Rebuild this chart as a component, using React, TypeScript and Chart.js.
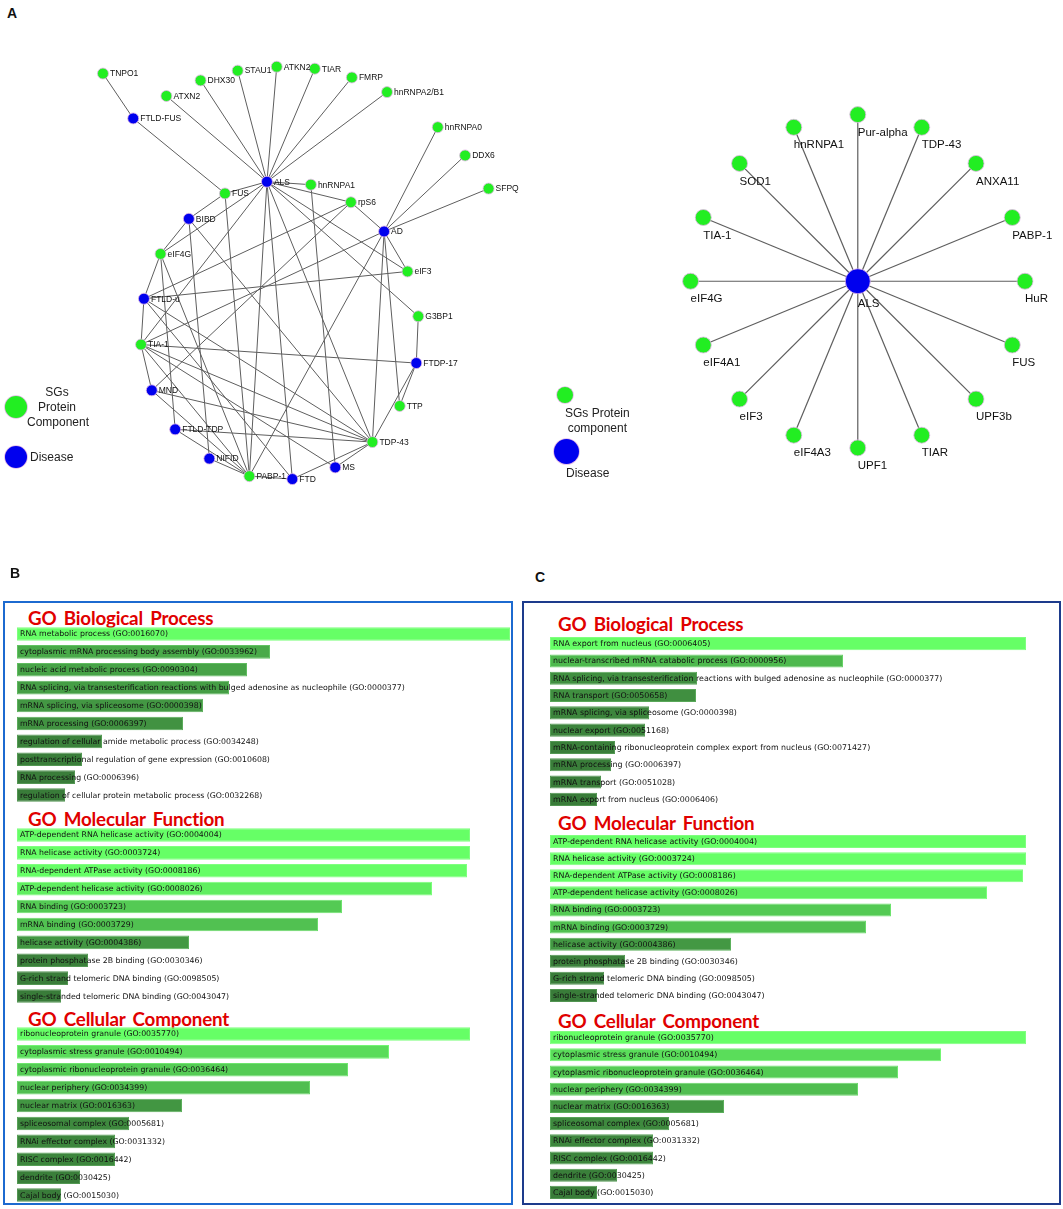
import React, { useEffect, useRef } from "react";
import { Chart, registerables } from "chart.js";
Chart.register(...registerables);

// ---------------- Panel A (left): SG protein / disease network ----------------
const leftNodeNames = [
  "TNPO1", "ATXN2", "DHX30", "STAU1", "ATKN2", "TIAR", "FMRP", "hnRNPA2/B1",
  "FTLD-FUS", "hnRNPA0", "DDX6", "SFPQ", "ALS", "hnRNPA1", "FUS", "rpS6",
  "BIBD", "AD", "eIF4G", "eIF3", "FTLD-u", "G3BP1", "TIA-1", "FTDP-17",
  "MND", "TTP", "FTLD-TDP", "TDP-43", "NIFID", "MS", "PABP-1", "FTD",
];
const leftNodeX = [99, 164, 199, 237, 277, 316, 354, 390, 130, 442, 470, 494, 267, 312, 224, 353, 187, 387, 158, 411, 141, 422, 138, 420, 149, 403, 173, 375, 208, 337, 249, 293];
const leftNodeY = [69, 92, 76, 66, 62, 64, 73, 88, 115, 124, 153, 187, 180, 183, 192, 201, 218, 231, 254, 272, 300, 318, 347, 366, 394, 410, 434, 447, 464, 473, 482, 485];
const leftNodeKind = [
  "SG", "SG", "SG", "SG", "SG", "SG", "SG", "SG",
  "D", "SG", "SG", "SG", "D", "SG", "SG", "SG",
  "D", "D", "SG", "SG", "D", "SG", "SG", "D",
  "D", "SG", "D", "SG", "D", "D", "SG", "D",
];
const leftEdges: [string, string][] = [
  ["TNPO1", "FTLD-FUS"], ["FTLD-FUS", "FUS"],
  ["ATXN2", "ALS"], ["DHX30", "ALS"], ["STAU1", "ALS"], ["ATKN2", "ALS"], ["TIAR", "ALS"], ["FMRP", "ALS"], ["hnRNPA2/B1", "ALS"],
  ["hnRNPA0", "AD"], ["DDX6", "AD"], ["SFPQ", "AD"],
  ["ALS", "FUS"], ["ALS", "hnRNPA1"], ["ALS", "rpS6"], ["ALS", "eIF4G"], ["ALS", "TIA-1"], ["ALS", "PABP-1"], ["ALS", "FTD"], ["ALS", "TDP-43"], ["ALS", "eIF3"], ["ALS", "G3BP1"],
  ["hnRNPA1", "MS"],
  ["rpS6", "AD"], ["rpS6", "FTLD-u"], ["rpS6", "MND"],
  ["FUS", "BIBD"], ["FUS", "PABP-1"],
  ["BIBD", "eIF4G"], ["BIBD", "NIFID"], ["BIBD", "TDP-43"],
  ["AD", "eIF3"], ["AD", "TIA-1"], ["AD", "PABP-1"], ["AD", "TDP-43"], ["AD", "TTP"],
  ["eIF4G", "FTLD-u"], ["eIF4G", "FTLD-TDP"], ["eIF4G", "PABP-1"],
  ["FTLD-u", "eIF3"], ["FTLD-u", "TIA-1"], ["FTLD-u", "TDP-43"], ["FTLD-u", "FTD"],
  ["TIA-1", "FTDP-17"], ["TIA-1", "MND"], ["TIA-1", "TDP-43"], ["TIA-1", "PABP-1"], ["TIA-1", "MS"],
  ["MND", "TDP-43"], ["MND", "PABP-1"],
  ["FTLD-TDP", "TDP-43"], ["FTLD-TDP", "PABP-1"],
  ["NIFID", "PABP-1"], ["PABP-1", "FTD"], ["FTD", "TDP-43"], ["MS", "TDP-43"],
  ["TDP-43", "FTDP-17"], ["TTP", "FTDP-17"], ["FTDP-17", "G3BP1"],
];

// ---------------- Panel A (right): ALS star network ----------------
const rightHubName = "ALS";
const rightHubX = 861;
const rightHubY = 283;
const rightRadius = 176;
const rightNodeNames = [
  "HuR", "PABP-1", "ANXA11", "TDP-43", "Pur-alpha", "hnRNPA1", "SOD1", "TIA-1",
  "eIF4G", "eIF4A1", "eIF3", "eIF4A3", "UPF1", "TIAR", "UPF3b", "FUS",
];
const rightNodeAngleDeg = [0, 22.5, 45, 67.5, 90, 112.5, 135, 157.5, 180, 202.5, 225, 247.5, 270, 292.5, 315, 337.5];

// ---------------- Panel B: GO enrichment ----------------
const bBPTerms = [
  "RNA metabolic process (GO:0016070)",
  "cytoplasmic mRNA processing body assembly (GO:0033962)",
  "nucleic acid metabolic process (GO:0090304)",
  "RNA splicing, via transesterification reactions with bulged adenosine as nucleophile (GO:0000377)",
  "mRNA splicing, via spliceosome (GO:0000398)",
  "mRNA processing (GO:0006397)",
  "regulation of cellular amide metabolic process (GO:0034248)",
  "posttranscriptional regulation of gene expression (GO:0010608)",
  "RNA processing (GO:0006396)",
  "regulation of cellular protein metabolic process (GO:0032268)",
];
const bBPScores = [493, 253, 230, 212, 186, 166, 85, 65, 58, 48];

const mfTerms = [
  "ATP-dependent RNA helicase activity (GO:0004004)",
  "RNA helicase activity (GO:0003724)",
  "RNA-dependent ATPase activity (GO:0008186)",
  "ATP-dependent helicase activity (GO:0008026)",
  "RNA binding (GO:0003723)",
  "mRNA binding (GO:0003729)",
  "helicase activity (GO:0004386)",
  "protein phosphatase 2B binding (GO:0030346)",
  "G-rich strand telomeric DNA binding (GO:0098505)",
  "single-stranded telomeric DNA binding (GO:0043047)",
];
const bMFScores = [453, 453, 450, 415, 325, 301, 172, 71, 51, 44];

const ccTerms = [
  "ribonucleoprotein granule (GO:0035770)",
  "cytoplasmic stress granule (GO:0010494)",
  "cytoplasmic ribonucleoprotein granule (GO:0036464)",
  "nuclear periphery (GO:0034399)",
  "nuclear matrix (GO:0016363)",
  "spliceosomal complex (GO:0005681)",
  "RNAi effector complex (GO:0031332)",
  "RISC complex (GO:0016442)",
  "dendrite (GO:0030425)",
  "Cajal body (GO:0015030)",
];
const bCCScores = [453, 372, 331, 293, 165, 112, 98, 98, 63, 44];

// ---------------- Panel C: GO enrichment ----------------
const cBPTerms = [
  "RNA export from nucleus (GO:0006405)",
  "nuclear-transcribed mRNA catabolic process (GO:0000956)",
  "RNA splicing, via transesterification reactions with bulged adenosine as nucleophile (GO:0000377)",
  "RNA transport (GO:0050658)",
  "mRNA splicing, via spliceosome (GO:0000398)",
  "nuclear export (GO:0051168)",
  "mRNA-containing ribonucleoprotein complex export from nucleus (GO:0071427)",
  "mRNA processing (GO:0006397)",
  "mRNA transport (GO:0051028)",
  "mRNA export from nucleus (GO:0006406)",
];
const cBPScores = [476, 293, 147, 146, 99, 95, 65, 61, 51, 47];
const cMFScores = [476, 476, 473, 437, 341, 316, 181, 75, 54, 47];
const cCCScores = [476, 391, 348, 308, 174, 119, 103, 103, 67, 47];

// ---------------- styling helpers ----------------
const SG_GREEN = "#22ee22";
const DISEASE_BLUE = "#0000ee";
const EDGE_GREY = "#5e5e5e";

function barColor(f: number, lighten = 0) {
  const t = Math.pow(Math.max(0, Math.min(1, f)), 1.5);
  const r = Math.round(56 + (102 - 56) * t + lighten);
  const g = Math.round(120 + (255 - 120) * t + lighten);
  const b = Math.round(56 + (102 - 56) * t + lighten);
  return `rgb(${Math.min(255, r)},${Math.min(255, g)},${Math.min(255, b)})`;
}

type CfgFn = () => any;

function ChartCanvas(props: { left: number; top: number; width: number; height: number; make: CfgFn }) {
  const ref = useRef<HTMLCanvasElement | null>(null);
  useEffect(() => {
    if (!ref.current) return;
    const chart = new Chart(ref.current, props.make());
    return () => chart.destroy();
  }, []);
  return (
    <canvas
      ref={ref}
      width={props.width}
      height={props.height}
      style={{ position: "absolute", left: props.left, top: props.top, width: props.width, height: props.height }}
    />
  );
}

function networkConfig(opts: {
  xMin: number; xMax: number; yMax: number;
  names: string[]; xs: number[]; ys: number[]; colors: string[]; radii: number[];
  edges: [number, number][];
  font: string; labelOffset: (r: number) => [number, number];
  edgeWidth: number;
}) {
  const nodeData = opts.names.map((_, i) => ({ x: opts.xs[i], y: opts.ys[i] }));
  const edgeSets = opts.edges.map(([a, b]) => ({
    type: "scatter",
    data: [nodeData[a], nodeData[b]],
    showLine: true,
    borderColor: EDGE_GREY,
    borderWidth: opts.edgeWidth,
    pointRadius: 0,
    clip: false,
  }));
  const labelPlugin = {
    id: "nodeLabels",
    afterDatasetsDraw(chart: any) {
      const meta = chart.getDatasetMeta(0);
      const ctx = chart.ctx;
      ctx.save();
      ctx.font = opts.font;
      ctx.fillStyle = "#111";
      ctx.textBaseline = "middle";
      ctx.textAlign = "left";
      meta.data.forEach((el: any, i: number) => {
        const [dx, dy] = opts.labelOffset(opts.radii[i]);
        ctx.fillText(opts.names[i], el.x + dx, el.y + dy);
      });
      ctx.restore();
    },
  };
  return {
    type: "scatter",
    data: {
      datasets: [
        {
          data: nodeData,
          pointRadius: opts.radii,
          pointBackgroundColor: opts.colors,
          pointBorderColor: "#e2b8e6",
          pointBorderWidth: 0.8,
          clip: false,
        },
        ...edgeSets,
      ],
    },
    options: {
      responsive: false,
      animation: false,
      events: [],
      layout: { padding: 0 },
      scales: {
        x: { type: "linear", display: false, min: opts.xMin, max: opts.xMax },
        y: { type: "linear", display: false, min: 0, max: opts.yMax, reverse: true },
      },
      plugins: { legend: { display: false }, tooltip: { enabled: false } },
    },
    plugins: [labelPlugin],
  };
}

function leftNetworkConfig() {
  const idx = (n: string) => leftNodeNames.indexOf(n);
  return networkConfig({
    xMin: 0, xMax: 530, yMax: 500,
    names: leftNodeNames, xs: leftNodeX, ys: leftNodeY,
    colors: leftNodeKind.map((k) => (k === "SG" ? SG_GREEN : DISEASE_BLUE)),
    radii: leftNodeNames.map(() => 5.5),
    edges: leftEdges.map(([a, b]) => [idx(a), idx(b)] as [number, number]),
    font: '8.5px "Liberation Sans", Arial, sans-serif',
    labelOffset: () => [7, 0.5],
    edgeWidth: 1,
  });
}

function rightNetworkConfig() {
  const names = [rightHubName, ...rightNodeNames];
  const xs = [rightHubX, ...rightNodeAngleDeg.map((a) => rightHubX + rightRadius * Math.cos((a * Math.PI) / 180))];
  const ys = [rightHubY, ...rightNodeAngleDeg.map((a) => rightHubY - rightRadius * Math.sin((a * Math.PI) / 180))];
  return networkConfig({
    xMin: 530, xMax: 1063, yMax: 500,
    names, xs, ys,
    colors: [DISEASE_BLUE, ...rightNodeNames.map(() => SG_GREEN)],
    radii: [12.5, ...rightNodeNames.map(() => 8)],
    edges: rightNodeNames.map((_, i) => [0, i + 1] as [number, number]),
    font: '11.5px "Liberation Sans", Arial, sans-serif',
    labelOffset: (r) => [0, r + 10],
    edgeWidth: 1.2,
  });
}

function goBarConfig(terms: string[], scores: number[], width: number, font: string) {
  const max = Math.max(...scores);
  const labelPlugin = {
    id: "goLabels",
    afterDatasetsDraw(chart: any) {
      const meta = chart.getDatasetMeta(0);
      const ctx = chart.ctx;
      ctx.save();
      ctx.font = font;
      ctx.fillStyle = "#111";
      ctx.textBaseline = "middle";
      ctx.textAlign = "left";
      meta.data.forEach((el: any, i: number) => {
        ctx.fillText(terms[i], chart.chartArea.left + 3, el.y + 0.5);
      });
      ctx.restore();
    },
  };
  return {
    type: "bar",
    data: {
      labels: terms,
      datasets: [
        {
          data: scores,
          backgroundColor: scores.map((s) => barColor(s / max)),
          borderColor: scores.map((s) => barColor(s / max, 25)),
          borderWidth: 1,
          borderSkipped: false,
          barPercentage: 0.76,
          categoryPercentage: 1,
        },
      ],
    },
    options: {
      indexAxis: "y",
      responsive: false,
      animation: false,
      events: [],
      layout: { padding: 0 },
      scales: {
        x: { display: false, min: 0, max: width },
        y: { display: false },
      },
      plugins: { legend: { display: false }, tooltip: { enabled: false } },
    },
    plugins: [labelPlugin],
  };
}

const titleStyle = (left: number, top: number): React.CSSProperties => ({
  position: "absolute",
  left,
  top,
  fontFamily: 'Lato, "Open Sans", sans-serif',
  fontWeight: 700,
  fontSize: 18.8,
  lineHeight: "20px",
  color: "#e00000",
  letterSpacing: -0.2,
  wordSpacing: 3,
  whiteSpace: "nowrap",
});

const panelLetter = (left: number, top: number): React.CSSProperties => ({
  position: "absolute",
  left,
  top,
  fontFamily: '"Liberation Sans", Arial, sans-serif',
  fontWeight: 700,
  fontSize: 14,
  lineHeight: "14px",
  color: "#111",
});

const legendText: React.CSSProperties = {
  position: "absolute",
  fontFamily: '"Liberation Sans", Arial, sans-serif',
  fontSize: 12,
  lineHeight: "15px",
  color: "#222",
  whiteSpace: "nowrap",
};

const dot = (cx: number, cy: number, r: number, color: string): React.CSSProperties => ({
  position: "absolute",
  left: cx - r,
  top: cy - r,
  width: 2 * r,
  height: 2 * r,
  borderRadius: "50%",
  background: color,
  boxShadow: "0 0 0 0.8px #e2b8e6",
});

export default function App() {
  const B_FONT = '7.8px "DejaVu Sans", Verdana, sans-serif';
  const C_FONT = '7.9px "DejaVu Sans", Verdana, sans-serif';
  return (
    <div style={{ position: "absolute", left: 0, top: 0, width: 1063, height: 1209, background: "#fff", overflow: "hidden" }}>
      {/* Panel A */}
      <div style={panelLetter(7, 6)}>A</div>
      <ChartCanvas left={0} top={0} width={530} height={500} make={leftNetworkConfig} />
      <ChartCanvas left={530} top={0} width={533} height={500} make={rightNetworkConfig} />

      {/* left legend */}
      <div style={dot(16, 407, 11, SG_GREEN)} />
      <div style={dot(16, 457, 11, DISEASE_BLUE)} />
      <div style={{ ...legendText, left: 27, top: 385, width: 60, textAlign: "center" }}>
        SGs<br />Protein<br />Component
      </div>
      <div style={{ ...legendText, left: 30, top: 450 }}>Disease</div>

      {/* right legend */}
      <div style={dot(565, 395, 8, SG_GREEN)} />
      <div style={dot(566, 451, 12.5, DISEASE_BLUE)} />
      <div style={{ ...legendText, left: 565, top: 406, textAlign: "center" }}>
        SGs Protein<br />component
      </div>
      <div style={{ ...legendText, left: 566, top: 466 }}>Disease</div>

      {/* Panel B */}
      <div style={panelLetter(10, 566)}>B</div>
      <div style={{ position: "absolute", left: 3, top: 601, width: 506, height: 600, border: "2px solid #1c6ad0" }} />
      <div style={titleStyle(28, 608)}>GO Biological Process</div>
      <ChartCanvas left={17} top={625} width={495} height={179} make={() => goBarConfig(bBPTerms, bBPScores, 495, B_FONT)} />
      <div style={titleStyle(28, 809)}>GO Molecular Function</div>
      <ChartCanvas left={17} top={826} width={495} height={179} make={() => goBarConfig(mfTerms, bMFScores, 495, B_FONT)} />
      <div style={titleStyle(28, 1009)}>GO Cellular Component</div>
      <ChartCanvas left={17} top={1025} width={495} height={179} make={() => goBarConfig(ccTerms, bCCScores, 495, B_FONT)} />

      {/* Panel C */}
      <div style={panelLetter(535, 570)}>C</div>
      <div style={{ position: "absolute", left: 522, top: 601, width: 535, height: 600, border: "2px solid #1d3b8c" }} />
      <div style={titleStyle(558, 614)}>GO Biological Process</div>
      <ChartCanvas left={550} top={635} width={508} height={173} make={() => goBarConfig(cBPTerms, cBPScores, 508, C_FONT)} />
      <div style={titleStyle(558, 813)}>GO Molecular Function</div>
      <ChartCanvas left={550} top={833} width={508} height={171} make={() => goBarConfig(mfTerms, cMFScores, 508, C_FONT)} />
      <div style={titleStyle(558, 1011)}>GO Cellular Component</div>
      <ChartCanvas left={550} top={1029} width={508} height={172} make={() => goBarConfig(ccTerms, cCCScores, 508, C_FONT)} />
    </div>
  );
}
